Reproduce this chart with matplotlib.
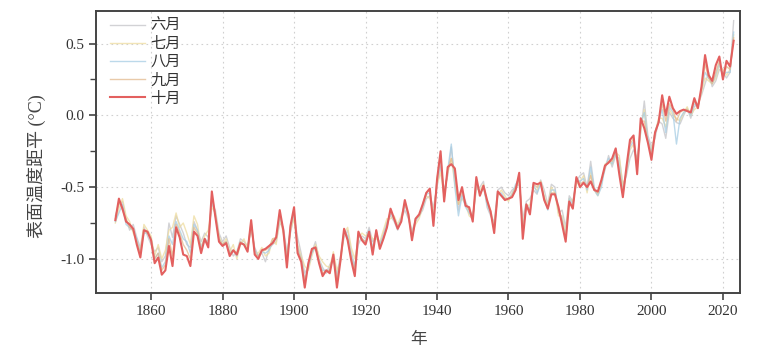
import numpy as np
import matplotlib
matplotlib.use("Agg")
import matplotlib.pyplot as plt
from matplotlib.ticker import MultipleLocator

plt.rcParams['font.family'] = ['Liberation Serif', 'Noto Sans CJK SC', 'DejaVu Sans']

years = list(range(1850, 2024))

june = [
 -0.70, -0.62, -0.60, -0.72, -0.80, -0.76, -0.85, -0.92, -0.78, -0.84,
 -0.90, -0.95, -0.92, -1.02, -0.98, -0.75, -0.85, -0.70, -0.76, -0.82,
 -0.90, -0.92, -0.74, -0.80, -0.88, -0.82, -0.85, -0.62, -0.66, -0.82,
 -0.88, -0.84, -0.92, -0.98, -0.95, -0.86, -0.88, -0.91, -0.80, -0.92,
 -0.98, -0.96, -1.02, -0.93, -0.90, -0.88, -0.75, -0.78, -0.95, -0.82,
 -0.70, -0.85, -0.96, -1.10, -1.05, -0.95, -0.88, -1.00, -1.06, -1.10,
 -1.04, -1.00, -1.10, -0.98, -0.85, -0.80, -0.95, -1.05, -0.90, -0.84,
 -0.86, -0.78, -0.88, -0.84, -0.90, -0.82, -0.74, -0.70, -0.74, -0.80,
 -0.72, -0.66, -0.72, -0.80, -0.74, -0.70, -0.66, -0.58, -0.56, -0.64,
 -0.50, -0.36, -0.52, -0.42, -0.22, -0.45, -0.66, -0.55, -0.60, -0.66,
 -0.70, -0.52, -0.50, -0.46, -0.64, -0.70, -0.74, -0.52, -0.50, -0.54,
 -0.56, -0.52, -0.50, -0.48, -0.72, -0.60, -0.58, -0.52, -0.55, -0.45,
 -0.52, -0.62, -0.48, -0.50, -0.68, -0.66, -0.78, -0.56, -0.60, -0.46,
 -0.42, -0.40, -0.50, -0.32, -0.50, -0.55, -0.46, -0.38, -0.28, -0.36,
 -0.28, -0.30, -0.48, -0.42, -0.30, -0.24, -0.30, -0.12, 0.10, -0.14,
 -0.22, -0.16, -0.04, -0.06, -0.16, 0.02, -0.02, -0.05, -0.06, 0.00,
 0.05, -0.02, 0.06, 0.08, 0.14, 0.22, 0.30, 0.20, 0.24, 0.32,
 0.30, 0.26, 0.30, 0.66]

july = [
 -0.75, -0.65, -0.58, -0.70, -0.74, -0.82, -0.88, -0.95, -0.76, -0.80,
 -0.84, -0.98, -0.90, -1.00, -0.94, -0.80, -0.78, -0.68, -0.78, -0.75,
 -0.82, -0.90, -0.70, -0.76, -0.92, -0.84, -0.80, -0.64, -0.68, -0.84,
 -0.90, -0.86, -0.95, -0.90, -1.00, -0.90, -0.86, -0.93, -0.78, -0.95,
 -0.96, -0.92, -0.98, -0.96, -0.86, -0.90, -0.72, -0.82, -0.98, -0.80,
 -0.72, -0.90, -0.98, -1.05, -1.08, -0.98, -0.90, -0.98, -1.02, -1.05,
 -1.06, -0.95, -1.08, -1.02, -0.82, -0.78, -0.92, -1.00, -0.86, -0.82,
 -0.84, -0.82, -0.86, -0.86, -0.88, -0.80, -0.72, -0.72, -0.70, -0.76,
 -0.70, -0.62, -0.68, -0.82, -0.76, -0.72, -0.64, -0.56, -0.58, -0.68,
 -0.48, -0.40, -0.56, -0.40, -0.30, -0.48, -0.62, -0.58, -0.62, -0.70,
 -0.72, -0.50, -0.52, -0.48, -0.60, -0.66, -0.78, -0.56, -0.52, -0.56,
 -0.60, -0.54, -0.50, -0.46, -0.76, -0.64, -0.62, -0.50, -0.52, -0.46,
 -0.56, -0.64, -0.50, -0.54, -0.70, -0.70, -0.82, -0.58, -0.60, -0.48,
 -0.46, -0.42, -0.54, -0.40, -0.52, -0.56, -0.48, -0.34, -0.32, -0.34,
 -0.26, -0.28, -0.50, -0.40, -0.24, -0.20, -0.34, -0.10, 0.04, -0.18,
 -0.24, -0.12, -0.02, -0.02, -0.08, 0.04, 0.00, -0.02, -0.04, 0.02,
 0.06, 0.00, 0.04, 0.06, 0.16, 0.26, 0.24, 0.22, 0.26, 0.34,
 0.32, 0.28, 0.32, 0.56]

august = [
 -0.74, -0.68, -0.62, -0.76, -0.78, -0.80, -0.86, -0.96, -0.82, -0.82,
 -0.86, -1.00, -0.96, -1.06, -1.02, -0.84, -0.90, -0.74, -0.80, -0.86,
 -0.88, -0.96, -0.76, -0.80, -0.92, -0.86, -0.88, -0.58, -0.70, -0.86,
 -0.90, -0.88, -0.96, -0.94, -0.98, -0.88, -0.90, -0.94, -0.76, -0.94,
 -0.98, -0.95, -0.96, -0.94, -0.88, -0.86, -0.70, -0.80, -1.00, -0.78,
 -0.68, -0.92, -1.00, -1.14, -1.06, -0.96, -0.92, -1.02, -1.08, -1.08,
 -1.08, -0.98, -1.14, -1.00, -0.80, -0.84, -0.98, -1.06, -0.84, -0.86,
 -0.88, -0.80, -0.92, -0.82, -0.90, -0.84, -0.76, -0.68, -0.72, -0.78,
 -0.72, -0.62, -0.70, -0.84, -0.72, -0.70, -0.64, -0.55, -0.54, -0.72,
 -0.46, -0.32, -0.58, -0.38, -0.20, -0.50, -0.70, -0.56, -0.64, -0.68,
 -0.72, -0.48, -0.54, -0.50, -0.62, -0.68, -0.78, -0.55, -0.54, -0.58,
 -0.58, -0.55, -0.48, -0.44, -0.80, -0.62, -0.66, -0.48, -0.54, -0.48,
 -0.58, -0.66, -0.52, -0.52, -0.66, -0.72, -0.86, -0.58, -0.62, -0.44,
 -0.46, -0.44, -0.52, -0.36, -0.52, -0.56, -0.50, -0.36, -0.30, -0.34,
 -0.26, -0.34, -0.54, -0.40, -0.22, -0.18, -0.36, -0.06, 0.02, -0.16,
 -0.26, -0.12, -0.04, 0.04, -0.12, 0.06, 0.02, -0.20, -0.02, 0.02,
 0.04, 0.00, 0.08, 0.06, 0.18, 0.30, 0.26, 0.22, 0.28, 0.36,
 0.28, 0.30, 0.30, 0.58]

september = [
 -0.72, -0.60, -0.66, -0.72, -0.78, -0.80, -0.88, -0.96, -0.80, -0.82,
 -0.86, -1.00, -0.96, -1.08, -1.04, -0.86, -0.98, -0.76, -0.82, -0.90,
 -0.94, -1.00, -0.78, -0.82, -0.94, -0.86, -0.90, -0.56, -0.70, -0.86,
 -0.90, -0.88, -0.96, -0.94, -0.96, -0.88, -0.90, -0.94, -0.74, -0.96,
 -0.98, -0.94, -0.94, -0.92, -0.86, -0.85, -0.68, -0.80, -1.02, -0.78,
 -0.66, -0.94, -1.00, -1.16, -1.04, -0.94, -0.92, -1.02, -1.10, -1.08,
 -1.08, -0.98, -1.16, -1.00, -0.80, -0.86, -1.00, -1.08, -0.82, -0.86,
 -0.88, -0.82, -0.94, -0.80, -0.92, -0.86, -0.78, -0.66, -0.72, -0.78,
 -0.74, -0.60, -0.70, -0.86, -0.72, -0.70, -0.62, -0.54, -0.52, -0.74,
 -0.44, -0.28, -0.58, -0.38, -0.30, -0.40, -0.62, -0.52, -0.62, -0.66,
 -0.72, -0.46, -0.55, -0.50, -0.60, -0.68, -0.80, -0.54, -0.56, -0.58,
 -0.58, -0.56, -0.50, -0.42, -0.82, -0.62, -0.68, -0.48, -0.50, -0.46,
 -0.58, -0.64, -0.54, -0.54, -0.66, -0.74, -0.86, -0.60, -0.64, -0.44,
 -0.48, -0.46, -0.50, -0.42, -0.52, -0.54, -0.46, -0.36, -0.32, -0.32,
 -0.24, -0.38, -0.55, -0.38, -0.20, -0.16, -0.38, -0.04, -0.04, -0.18,
 -0.28, -0.12, -0.04, 0.08, -0.04, 0.08, 0.04, -0.04, 0.02, 0.04,
 0.04, 0.02, 0.10, 0.06, 0.18, 0.36, 0.26, 0.22, 0.30, 0.38,
 0.26, 0.34, 0.32, 0.54]

october = [
 -0.73, -0.58, -0.65, -0.74, -0.76, -0.79, -0.90, -0.99, -0.80, -0.81,
 -0.87, -1.03, -0.99, -1.11, -1.08, -0.91, -1.05, -0.78, -0.85, -0.97,
 -0.98, -1.05, -0.81, -0.84, -0.96, -0.86, -0.92, -0.53, -0.71, -0.88,
 -0.91, -0.89, -0.98, -0.94, -0.97, -0.89, -0.90, -0.95, -0.73, -0.97,
 -1.00, -0.94, -0.93, -0.91, -0.89, -0.85, -0.66, -0.80, -1.06, -0.77,
 -0.64, -0.96, -1.02, -1.20, -1.03, -0.93, -0.92, -1.03, -1.12, -1.08,
 -1.10, -0.97, -1.20, -1.01, -0.79, -0.87, -1.01, -1.12, -0.81, -0.87,
 -0.90, -0.81, -0.97, -0.80, -0.93, -0.86, -0.78, -0.65, -0.72, -0.79,
 -0.74, -0.59, -0.69, -0.87, -0.72, -0.69, -0.62, -0.54, -0.51, -0.77,
 -0.45, -0.25, -0.60, -0.36, -0.34, -0.37, -0.59, -0.50, -0.63, -0.64,
 -0.74, -0.43, -0.56, -0.49, -0.59, -0.67, -0.82, -0.53, -0.56, -0.59,
 -0.58, -0.57, -0.52, -0.40, -0.86, -0.62, -0.69, -0.47, -0.48, -0.47,
 -0.59, -0.65, -0.55, -0.55, -0.64, -0.76, -0.88, -0.60, -0.65, -0.43,
 -0.50, -0.47, -0.50, -0.46, -0.52, -0.53, -0.45, -0.35, -0.33, -0.30,
 -0.23, -0.41, -0.57, -0.36, -0.17, -0.14, -0.41, -0.02, -0.09, -0.19,
 -0.31, -0.12, -0.05, 0.14, 0.00, 0.13, 0.05, 0.01, 0.03, 0.04,
 0.03, 0.02, 0.12, 0.05, 0.20, 0.42, 0.28, 0.24, 0.35, 0.41,
 0.25, 0.38, 0.34, 0.52]

labels = ['六月', '七月', '八月', '九月', '十月']
series = [june, july, august, september, october]
colors = ['#c4c4c8', '#eedc9e', '#a6cde4', '#e2b98c', '#e3605f']
widths = [1.0, 1.0, 1.0, 1.0, 1.5]
alphas = [0.75, 0.75, 0.75, 0.75, 1.0]

fig = plt.figure(figsize=(7.64, 3.53), dpi=100)
ax = fig.add_axes([0.1257, 0.169, 0.843, 0.801])

for s, lab, c, w, a in zip(series, labels, colors, widths, alphas):
    ax.plot(years, s, color=c, lw=w, alpha=a, label=lab)

ax.set_xlim(1844.6, 2024.8)
ax.set_ylim(-1.24, 0.73)
ax.set_xticks(range(1860, 2021, 20))
ax.set_yticks([-1.0, -0.5, 0.0, 0.5])
ax.set_yticklabels(['-1.0', '-0.5', '0.0', '0.5'])
ax.yaxis.set_minor_locator(MultipleLocator(0.25))

ax.grid(True, which='major', linestyle=(0, (1.5, 3)), color='#d0d0d0', linewidth=0.8)
for sp in ax.spines.values():
    sp.set_color('#444444')
    sp.set_linewidth(1.4)
ax.tick_params(axis='both', which='major', direction='out', length=5, width=1.2,
               colors='#444444', labelsize=11, labelcolor='#333333')
ax.tick_params(axis='y', which='minor', direction='out', length=4, width=1.0, colors='#444444')

ax.set_ylabel('表面温度距平 (°C)', fontsize=13, color='#444444')
ax.yaxis.set_label_coords(-0.078, 0.45)
ax.set_xlabel('年', fontsize=12, color='#444444', labelpad=10)

leg = ax.legend(loc='upper left', frameon=False, fontsize=11, handlelength=2.3,
                handletextpad=0.35, labelspacing=0.27, borderaxespad=0.15,
                bbox_to_anchor=(0.008, 1.0))
for t in leg.get_texts():
    t.set_color('#333333')

fig.savefig('out.png', dpi=100)
